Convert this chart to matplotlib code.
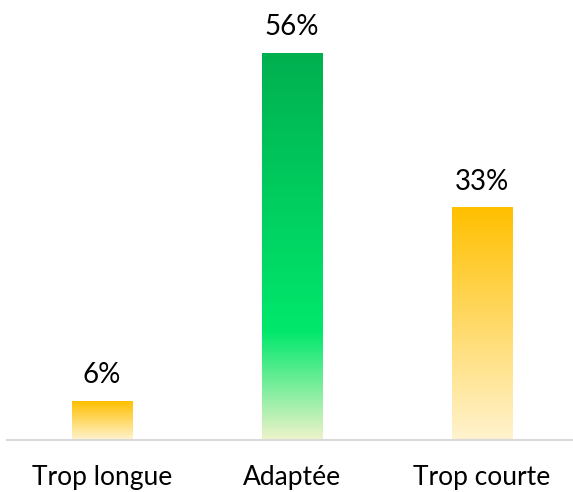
import numpy as np
import matplotlib
matplotlib.use("Agg")
import matplotlib.pyplot as plt
from matplotlib.colors import LinearSegmentedColormap

categories = ["Trop longue", "Adaptée", "Trop courte"]
values = [100 / 18, 1000 / 18, 600 / 18]
labels = ["6%", "56%", "33%"]

orange_cmap = LinearSegmentedColormap.from_list(
    "orange", [(0.0, "#FFF3CF"), (1.0, "#FFC000")])
green_cmap = LinearSegmentedColormap.from_list(
    "green", [(0.0, "#EEF3C9"), (0.28, "#00E86C"), (1.0, "#00B050")])
cmaps = [orange_cmap, green_cmap, orange_cmap]

plt.rcParams['font.family'] = ['Lato', 'DejaVu Sans']

fig = plt.figure(figsize=(5.73, 4.92), dpi=100)
ax = fig.add_axes([7 / 573, 52 / 492, 570 / 573, 440 / 492])

x = np.arange(len(categories))
width = 0.316
bars = ax.bar(x, values, width=width, color="none", edgecolor="none")

grad = np.linspace(0, 1, 256).reshape(-1, 1)
for bar, cmap in zip(bars, cmaps):
    x0, y0 = bar.get_x(), bar.get_y()
    w, h = bar.get_width(), bar.get_height()
    ax.imshow(grad, cmap=cmap, origin="lower", aspect="auto",
              extent=[x0, x0 + w, y0, y0 + h], interpolation="bilinear",
              zorder=2)

for xi, v, lab in zip(x, values, labels):
    ax.annotate(lab, (xi, v), xytext=(0, 13), textcoords="offset points",
                ha="center", va="baseline", fontsize=20, color="#000000")

ax.set_xlim(-0.5, 2.5)
ax.set_ylim(0, 440 / 6.965)
ax.set_xticks(x)
ax.set_xticklabels(categories, fontsize=19, color="#000000")
for t in ax.get_xticklabels():
    t.set_va("baseline")
ax.tick_params(axis="x", length=0, pad=32.4)
ax.set_yticks([])
for s in ["top", "left", "right"]:
    ax.spines[s].set_visible(False)
ax.spines["bottom"].set_color("#d9d9d9")
ax.spines["bottom"].set_linewidth(1.5)

fig.savefig("out.png", dpi=100)
